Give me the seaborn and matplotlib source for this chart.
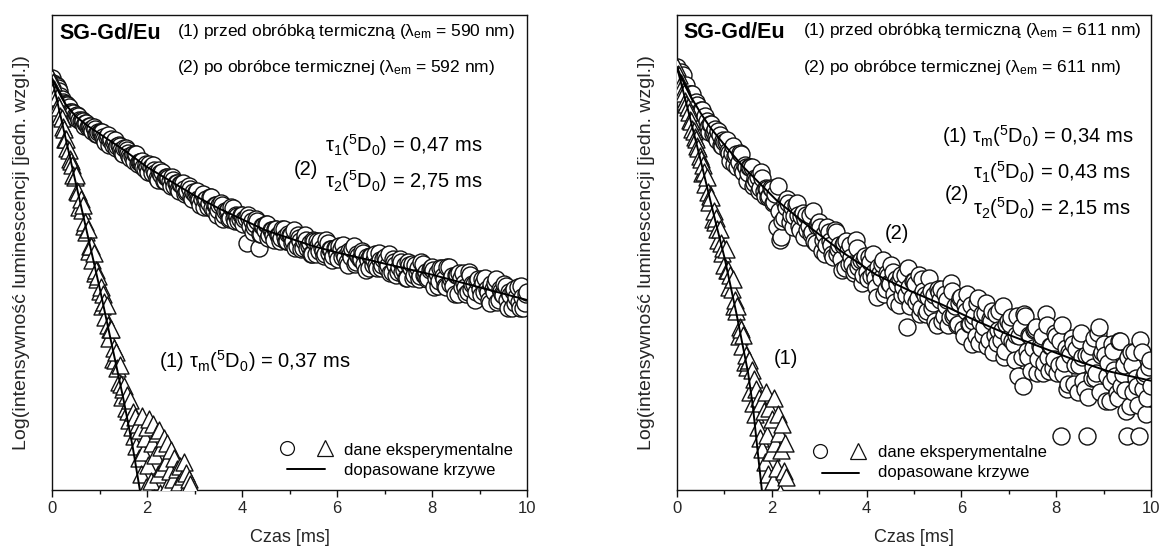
import numpy as np
import pandas as pd
import matplotlib
matplotlib.use("Agg")
import matplotlib.pyplot as plt
import seaborn as sns
from matplotlib.ticker import MultipleLocator

# ------------------------------------------------------------------
# Luminescence decay data (log10 of intensity, arbitrary units)
# circles: sample (2) after heat treatment; two interleaved read-outs,
#          "_a" at 0, 0.05, 0.10 ... ms and "_b" at 0.025, 0.075 ... ms
# triangles: sample (1) before heat treatment, every 0.025 ms
# ------------------------------------------------------------------
CIRC_STEP = 0.05
TRI_STEP = 0.025

left_circles_a = [
    2.60, 2.56, 2.55, 2.52, 2.47, 2.44, 2.44, 2.42, 2.38, 2.38, 2.35, 2.36, 2.33, 2.33, 2.32, 2.29, 2.30, 2.27, 2.28, 2.25, 2.26,
    2.26, 2.22, 2.23, 2.18, 2.22, 2.20, 2.16, 2.18, 2.15, 2.12, 2.16, 2.13, 2.10, 2.12, 2.12, 2.06, 2.07, 2.08, 2.03, 2.04,
    2.06, 2.00, 2.02, 1.97, 2.02, 1.99, 1.95, 1.98, 1.97, 1.92, 1.96, 1.94, 1.90, 1.93, 1.94, 1.87, 1.89, 1.90, 1.84, 1.87,
    1.89, 1.83, 1.84, 1.79, 1.84, 1.81, 1.85, 1.77, 1.80, 1.77, 1.81, 1.71, 1.76, 1.77, 1.72, 1.78, 1.70, 1.73, 1.71, 1.74,
    1.71, 1.56, 1.72, 1.70, 1.66, 1.71, 1.53, 1.62, 1.67, 1.68, 1.59, 1.64, 1.61, 1.65, 1.61, 1.57, 1.65, 1.60, 1.57, 1.61,
    1.56, 1.64, 1.54, 1.59, 1.52, 1.57, 1.58, 1.54, 1.49, 1.58, 1.49, 1.55, 1.57, 1.51, 1.49, 1.56, 1.52, 1.45, 1.53, 1.49,
    1.54, 1.47, 1.49, 1.44, 1.51, 1.47, 1.54, 1.44, 1.48, 1.46, 1.50, 1.39, 1.45, 1.48, 1.42, 1.49, 1.40, 1.45, 1.42, 1.47,
    1.40, 1.49, 1.38, 1.44, 1.36, 1.41, 1.44, 1.39, 1.34, 1.44, 1.40, 1.34, 1.42, 1.40, 1.35, 1.43, 1.36, 1.33, 1.39, 1.41,
    1.28, 1.37, 1.32, 1.40, 1.33, 1.28, 1.41, 1.33, 1.29, 1.36, 1.24, 1.34, 1.37, 1.28, 1.25, 1.36, 1.30, 1.20, 1.32, 1.27,
    1.33, 1.25, 1.27, 1.20, 1.30, 1.25, 1.33, 1.20, 1.26, 1.23, 1.29, 1.15, 1.23, 1.26, 1.18, 1.28, 1.15, 1.22, 1.18, 1.25,
]
left_circles_b = [
    2.57, 2.56, 2.54, 2.49, 2.45, 2.44, 2.43, 2.39, 2.39, 2.36, 2.37, 2.34, 2.34, 2.30, 2.32, 2.30, 2.28, 2.29, 2.25, 2.26,
    2.26, 2.23, 2.20, 2.24, 2.21, 2.18, 2.21, 2.17, 2.17, 2.13, 2.16, 2.15, 2.11, 2.11, 2.08, 2.12, 2.07, 2.07, 2.04, 2.06,
    2.01, 2.04, 2.05, 2.00, 1.96, 2.00, 2.01, 1.95, 1.98, 1.95, 1.98, 1.92, 1.94, 1.89, 1.93, 1.90, 1.88, 1.92, 1.85, 1.88,
    1.88, 1.84, 1.80, 1.87, 1.83, 1.79, 1.85, 1.78, 1.80, 1.74, 1.80, 1.80, 1.74, 1.76, 1.71, 1.79, 1.72, 1.74, 1.70, 1.74,
    1.68, 1.72, 1.74, 1.67, 1.63, 1.68, 1.70, 1.62, 1.67, 1.64, 1.68, 1.61, 1.64, 1.58, 1.65, 1.61, 1.59, 1.65, 1.57, 1.62,
    1.61, 1.57, 1.53, 1.61, 1.57, 1.53, 1.61, 1.53, 1.56, 1.49, 1.57, 1.57, 1.51, 1.53, 1.48, 1.58, 1.50, 1.52, 1.48, 1.53,
    1.46, 1.52, 1.55, 1.47, 1.42, 1.49, 1.52, 1.43, 1.49, 1.46, 1.51, 1.43, 1.47, 1.40, 1.48, 1.45, 1.42, 1.50, 1.40, 1.46,
    1.45, 1.42, 1.37, 1.46, 1.42, 1.38, 1.46, 1.38, 1.42, 1.34, 1.42, 1.43, 1.36, 1.38, 1.33, 1.44, 1.36, 1.38, 1.34, 1.40,
    1.39, 1.34, 1.29, 1.40, 1.35, 1.29, 1.41, 1.30, 1.35, 1.24, 1.36, 1.37, 1.28, 1.31, 1.24, 1.38, 1.27, 1.30, 1.25, 1.33,
    1.23, 1.31, 1.34, 1.25, 1.18, 1.27, 1.31, 1.19, 1.27, 1.24, 1.30, 1.20, 1.25, 1.15, 1.27, 1.22, 1.19, 1.29, 1.15, 1.24,
]

left_triangles = [
    2.60, 2.58, 2.53, 2.51, 2.48, 2.43, 2.42, 2.36, 2.35, 2.29, 2.28, 2.22, 2.22, 2.16, 2.15, 2.09, 2.08, 2.05, 1.99, 1.98,
    1.99, 1.89, 1.88, 1.79, 1.84, 1.77, 1.80, 1.67, 1.69, 1.63, 1.65, 1.51, 1.54, 1.54, 1.45, 1.50, 1.37, 1.39, 1.33, 1.35,
    1.26, 1.28, 1.16, 1.24, 1.19, 1.09, 1.17, 1.04, 0.96, 1.02, 1.02, 0.83, 0.90, 0.82, 0.87, 0.77, 0.68, 0.79, 0.67, 0.59,
    0.64, 0.66, 0.52, 0.60, 0.50, 0.44, 0.57, 0.40, 0.49, 0.34, 0.46, 0.28, 0.42, 0.20, 0.38, 0.10, 0.47, 0.24, 0.33, 0.02,
    0.40, 0.16, 0.45, 0.06, 0.30, 0.42, -0.05, 0.22, 0.36, 0.10, 0.38, -0.02, 0.27, 0.14, 0.33, -0.10, 0.18, 0.30, 0.04, 0.12,
    0.25, -0.08, 0.07, 0.20, -0.02, 0.13, -0.15, 0.05, 0.15, -0.06, 0.09, 0.18, 0.00, 0.11, -0.10, 0.07, 0.04,
]

right_circles_a = [
    2.67, 2.62, 2.61, 2.55, 2.56, 2.49, 2.50, 2.44, 2.45, 2.38, 2.40, 2.33, 2.36, 2.29, 2.31, 2.25, 2.28, 2.21, 2.24, 2.17, 2.20,
    2.21, 2.13, 2.13, 2.06, 2.12, 2.07, 2.12, 2.01, 2.04, 2.00, 2.04, 1.92, 1.97, 1.98, 1.91, 1.97, 1.86, 1.90, 1.86, 1.90, 1.82, 1.66,
    1.76, 1.60, 1.72, 1.79, 1.81, 1.74, 1.66, 1.80, 1.74, 1.64, 1.75, 1.71, 1.64, 1.74,
    1.63, 1.57, 1.67, 1.69, 1.51, 1.62, 1.55, 1.63, 1.55, 1.47, 1.63, 1.52, 1.46, 1.55,
    1.40, 1.51, 1.55, 1.43, 1.39, 1.53, 1.44, 1.31, 1.45, 1.38, 1.47, 1.35, 1.38, 1.28,
    1.41, 1.34, 1.45, 1.27, 1.35, 1.30, 1.38, 1.19, 1.30, 1.33, 1.23, 1.36, 1.03, 1.28,
    1.22, 1.32, 1.19, 1.36, 1.15, 1.26, 1.11, 1.22, 1.26, 1.18, 1.07, 1.27, 1.20, 1.07,
    1.24, 1.20, 1.09, 1.26, 1.11, 1.04, 1.18, 1.22, 0.97, 1.13, 1.05, 1.17, 1.07, 0.97,
    1.21, 1.06, 0.98, 1.12, 0.91, 1.08, 1.13, 0.98, 0.93, 1.13, 1.01, 0.84, 1.05, 0.96,
    1.09, 0.92, 0.98, 0.72, 1.03, 0.66, 1.10, 0.84, 0.97, 0.90, 1.02, 0.74, 0.91, 0.97,
    0.80, 1.04, 0.75, 0.91, 0.83, 0.97, 0.79, 0.34, 0.73, 0.90, 0.67, 0.85, 0.92, 0.79,
    0.62, 0.95, 0.84, 0.64, 0.34, 0.85, 0.71, 0.96, 0.74, 1.03, 0.85, 0.92, 0.56, 0.80,
    0.68, 0.88, 0.72, 0.58, 0.94, 0.73, 0.63, 0.34, 0.53, 0.79, 0.87, 0.66, 0.34, 0.87, 0.72, 0.48, 0.78, 0.66,
]
right_circles_b = [
    2.63, 2.64, 2.62, 2.54, 2.48, 2.50, 2.50, 2.41, 2.43, 2.39, 2.40, 2.33, 2.33, 2.26, 2.31, 2.26, 2.23, 2.27, 2.18, 2.21,
    2.20, 2.14, 2.08, 2.17, 2.11, 2.04, 2.13, 2.03, 2.05, 1.95, 2.04, 2.04, 1.94, 1.96, 1.89, 2.01, 1.89, 1.91, 1.85, 1.91, 1.81, 1.87,
    1.92, 1.58, 1.70, 1.81, 1.84, 1.69, 1.79, 1.73, 1.81, 1.67, 1.73, 1.60, 1.74, 1.67,
    1.62, 1.76, 1.56, 1.68, 1.66, 1.58, 1.49, 1.66, 1.57, 1.49, 1.64, 1.49, 1.55, 1.39,
    1.56, 1.57, 1.43, 1.47, 1.37, 1.58, 1.41, 1.45, 1.36, 1.48, 1.33, 1.44, 1.49, 1.34,
    1.22, 1.37, 1.43, 1.24, 1.37, 1.31, 1.42, 1.24, 1.33, 1.17, 1.36, 1.28, 1.23, 1.40,
    1.16, 1.32, 1.30, 1.21, 1.11, 1.33, 1.23, 1.13, 1.34, 1.15, 1.23, 1.04, 1.25, 1.27,
    1.10, 1.16, 1.04, 1.31, 1.10, 1.16, 1.05, 1.21, 1.02, 1.17, 1.24, 1.05, 0.92, 1.10,
    1.18, 0.93, 1.11, 1.03, 1.18, 0.95, 1.07, 0.87, 1.11, 1.01, 0.95, 1.16, 0.88, 1.07,
    1.05, 0.94, 0.82, 1.10, 0.97, 0.84, 1.11, 0.88, 0.98, 0.75, 1.01, 1.03, 0.83, 0.90,
    0.74, 1.11, 0.84, 0.91, 0.77, 0.99, 0.74, 0.94, 1.04, 0.80, 0.64, 0.87, 0.96, 0.67,
    0.89, 0.79, 0.99, 0.69, 0.85, 0.59, 0.91, 0.78, 0.71, 0.99, 0.62, 0.87, 0.85, 0.72,
    0.56, 0.92, 0.76, 0.61, 0.94, 0.66, 0.79, 0.50, 0.84, 0.87, 0.62, 0.71, 0.54, 0.95, 0.64, 0.74, 0.58, 0.82,
]

right_triangles = [
    2.67, 2.63, 2.62, 2.57, 2.55, 2.52, 2.51, 2.46, 2.44, 2.42, 2.39, 2.34, 2.33, 2.28, 2.27, 2.23, 2.22, 2.17, 2.16, 2.11,
    2.09, 2.00, 2.05, 2.01, 1.93, 1.98, 1.88, 1.82, 1.86, 1.85, 1.71, 1.76, 1.69, 1.72, 1.65, 1.58, 1.65, 1.56, 1.50, 1.53,
    1.42, 1.52, 1.39, 1.39, 1.28, 1.36, 1.27, 1.33, 1.16, 1.20, 1.13, 1.16, 0.97, 1.03, 1.02, 0.91, 0.98, 0.81, 0.85, 0.78,
    0.81, 0.82, 0.62, 0.76, 0.55, 0.70, 0.48, 0.64, 0.40, 0.58, 0.33, 0.55, 0.26, 0.50, 0.18, 0.62, 0.35, 0.10, 0.52, 0.24,
    0.45, 0.06, 0.58, 0.30, 0.14, 0.48, 0.36, -0.02, 0.25, 0.42, 0.12, 0.30, 0.08,
]

# fitted decay curves
fit_left_2_t = [0, 0.1, 0.2, 0.3, 0.5, 0.75, 1.0, 1.5, 2.0, 2.5, 3.0, 3.5, 4.0, 4.5, 5.0, 5.5, 6.0, 7.0, 8.0, 9.0, 10.0]
fit_left_2 = [2.60, 2.54, 2.48, 2.43, 2.36, 2.30, 2.25, 2.15, 2.04, 1.95, 1.86, 1.78, 1.71, 1.64, 1.59, 1.54, 1.50, 1.43, 1.36, 1.28, 1.20]
fit_left_1_t = [0, 0.25, 0.5, 0.75, 1.0, 1.25, 1.5, 1.6, 1.7, 1.8, 1.85, 1.9]
fit_left_1 = [2.60, 2.27, 1.94, 1.61, 1.28, 0.93, 0.58, 0.425, 0.27, 0.09, 0.0, -0.1]

fit_right_2_t = [0, 0.1, 0.2, 0.3, 0.4, 0.5, 0.7, 1.0, 1.4, 2.1, 2.8, 3.5, 4.2, 4.9, 5.6, 6.3, 7.0, 7.7, 8.4, 9.1, 10.0]
fit_right_2 = [2.67, 2.60, 2.54, 2.48, 2.43, 2.38, 2.29, 2.18, 2.04, 1.83, 1.66, 1.50, 1.36, 1.26, 1.17, 1.07, 0.98, 0.90, 0.82, 0.75, 0.69]
fit_right_1_t = [0, 0.25, 0.5, 0.75, 1.0, 1.25, 1.5, 1.6, 1.7, 1.79, 1.82]
fit_right_1 = [2.67, 2.38, 2.08, 1.77, 1.47, 1.12, 0.74, 0.53, 0.25, 0.0, -0.1]

x_ticks = [0, 2, 4, 6, 8, 10]
x_label = "Czas [ms]"
y_label = "Log(intensywność luminescencji [jedn. wzgl.])"

# ------------------------------------------------------------------
sns.set_style("ticks")
plt.rcParams["font.family"] = ["Liberation Sans", "DejaVu Sans"]
plt.rcParams["mathtext.fontset"] = "custom"
plt.rcParams["mathtext.rm"] = "Liberation Sans"
plt.rcParams["mathtext.it"] = "Liberation Sans:italic"
plt.rcParams["mathtext.bf"] = "Liberation Sans:bold"

W, H = 1161, 550
fig = plt.figure(figsize=(W / 100, H / 100), dpi=100)
ax_l = fig.add_axes([52 / W, 60 / H, 475 / W, 475 / H])
ax_r = fig.add_axes([677 / W, 60 / H, 474 / W, 475 / H])

EDGE = "#111111"


def circle_frame(a, b):
    """Merge the two interleaved read-outs into one time-ordered table."""
    t_a = np.arange(len(a)) * CIRC_STEP
    t_b = CIRC_STEP / 2 + np.arange(len(b)) * CIRC_STEP
    df = pd.DataFrame({"t": np.r_[t_a, t_b], "logI": np.r_[a, b]})
    return df.sort_values("t", kind="stable")


def draw_decays(ax, circ_a, circ_b, triangles, fit2_t, fit2, fit1_t, fit1):
    circ = circle_frame(circ_a, circ_b)
    tri = pd.DataFrame({"t": np.arange(len(triangles)) * TRI_STEP, "logI": triangles})
    sns.scatterplot(data=circ, x="t", y="logI", ax=ax, marker="o", s=150, color="white",
                    edgecolor=EDGE, linewidth=1.0, zorder=2, legend=False)
    sns.scatterplot(data=tri, x="t", y="logI", ax=ax, marker="^", s=150, color="white",
                    edgecolor=EDGE, linewidth=1.0, zorder=3, legend=False)
    sns.lineplot(x=fit2_t, y=fit2, ax=ax, color="black", linewidth=1.4,
                 sort=False, estimator=None, zorder=4)
    sns.lineplot(x=fit1_t, y=fit1, ax=ax, color="black", linewidth=1.4,
                 sort=False, estimator=None, zorder=4)


def style_axes(ax):
    ax.set_xlim(0, 10)
    ax.set_ylim(0, 3)
    ax.set_yticks([])
    ax.set_xticks(x_ticks)
    ax.xaxis.set_minor_locator(MultipleLocator(1))
    ax.tick_params(axis="x", which="major", direction="out", length=5, width=1,
                   color=EDGE, labelsize=12, pad=3, top=False)
    ax.tick_params(axis="x", which="minor", direction="out", length=3, width=1,
                   color=EDGE, top=False)
    ax.tick_params(axis="y", left=False, right=False)
    for sp in ax.spines.values():
        sp.set_visible(True)
        sp.set_linewidth(1.0)
        sp.set_color(EDGE)
    ax.set_xlabel(x_label, fontsize=13)
    ax.set_ylabel(y_label, fontsize=14)
    ax.xaxis.set_label_coords(0.5, -0.082)
    ax.yaxis.set_label_coords(-0.046, 0.5)


def txt(ax, x, y, s, size=12.5, **kw):
    ax.text(x, y, s, transform=ax.transAxes, ha="left", va="baseline",
            fontsize=size, color="black", **kw)


def legend_block(ax, xc, xt, xtext, y1, y2, xl0, xl1, yl):
    ax.plot([xc], [y1], transform=ax.transAxes, marker="o", ms=10, mfc="white",
            mec=EDGE, mew=0.9, clip_on=False, zorder=6)
    ax.plot([xt], [y1], transform=ax.transAxes, marker="^", ms=11.5, mfc="white",
            mec=EDGE, mew=0.9, clip_on=False, zorder=6)
    ax.plot([xl0, xl1], [yl, yl], transform=ax.transAxes, color="black",
            linewidth=1.4, clip_on=False, zorder=6)
    txt(ax, xtext, y1 - 0.014, "dane eksperymentalne", size=12)
    txt(ax, xtext, y2, "dopasowane krzywe", size=12)


sub = lambda s: r"$_\mathregular{" + s + "}$"
sup = lambda s: r"${}^\mathregular{" + s + "}$"
D0 = "(" + sup("5") + "D" + sub("0") + ")"

# ---- left panel ----
draw_decays(ax_l, left_circles_a, left_circles_b, left_triangles,
            fit_left_2_t, fit_left_2, fit_left_1_t, fit_left_1)
style_axes(ax_l)
txt(ax_l, 0.015, 0.950, "SG-Gd/Eu", size=15.5, fontweight="bold")
txt(ax_l, 0.263, 0.956, "(1) przed obróbką termiczną (λ" + sub("em") + " = 590 nm)")
txt(ax_l, 0.263, 0.879, "(2) po obróbce termicznej (λ" + sub("em") + " = 592 nm)")
txt(ax_l, 0.509, 0.663, "(2)", size=14.5)
txt(ax_l, 0.575, 0.712, "τ" + sub("1") + D0 + " = 0,47 ms", size=14.5)
txt(ax_l, 0.575, 0.636, "τ" + sub("2") + D0 + " = 2,75 ms", size=14.5)
txt(ax_l, 0.225, 0.257, "(1) τ" + sub("m") + D0 + " = 0,37 ms", size=14.5)
legend_block(ax_l, 0.495, 0.575, 0.614, 0.088, 0.032, 0.495, 0.575, 0.044)

# ---- right panel ----
draw_decays(ax_r, right_circles_a, right_circles_b, right_triangles,
            fit_right_2_t, fit_right_2, fit_right_1_t, fit_right_1)
style_axes(ax_r)
txt(ax_r, 0.014, 0.951, "SG-Gd/Eu", size=15.5, fontweight="bold")
txt(ax_r, 0.265, 0.957, "(1) przed obróbką termiczną (λ" + sub("em") + " = 611 nm)")
txt(ax_r, 0.265, 0.880, "(2) po obróbce termicznej (λ" + sub("em") + " = 611 nm)")
txt(ax_r, 0.559, 0.730, "(1) τ" + sub("m") + D0 + " = 0,34 ms", size=14.5)
txt(ax_r, 0.625, 0.655, "τ" + sub("1") + D0 + " = 0,43 ms", size=14.5)
txt(ax_r, 0.565, 0.611, "(2)", size=14.5)
txt(ax_r, 0.625, 0.580, "τ" + sub("2") + D0 + " = 2,15 ms", size=14.5)
txt(ax_r, 0.439, 0.529, "(2)", size=14.5)
txt(ax_r, 0.205, 0.265, "(1)", size=14.5)
legend_block(ax_r, 0.302, 0.382, 0.425, 0.083, 0.027, 0.305, 0.383, 0.035)

fig.savefig("out.png", dpi=100)
